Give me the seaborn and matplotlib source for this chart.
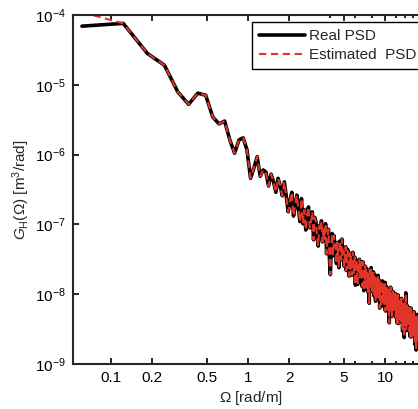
# -*- coding: utf-8 -*-
"""
Road PSD - real vs estimated (log-log)
"""

import numpy as np
import pandas as pd
import seaborn as sns
import matplotlib.pyplot as plt
from matplotlib.ticker import FixedLocator, NullFormatter

# frequency grid step [rad/m]
d_omega = 0.0614

# log10 of the real PSD, one value per frequency bin
real_log = [
    -4.16, -4.12, -4.55, -4.72, -5.10, -5.28, -5.12, -5.15, -5.46, -5.56,
    -5.52, -5.79, -5.98, -5.79, -5.76, -5.93, -6.34, -6.19, -6.03, -6.31,
    -6.22, -6.25, -6.45, -6.28, -6.39, -6.54, -6.34, -6.45, -6.59, -6.39,
    -6.60, -6.82, -6.66, -6.54, -6.88, -6.71, -6.58, -6.79, -6.96, -6.63,
    -6.99, -6.79, -7.08, -6.86, -6.75, -7.05, -6.96, -6.82, -7.22, -6.90,
    -6.96, -7.18, -7.31, -7.02, -7.10, -6.95, -7.25, -7.05, -7.21, -6.99,
    -7.42, -7.18, -7.07, -7.48, -7.72, -7.34, -7.13, -7.45, -7.16, -7.28,
    -7.31, -7.56, -7.26, -7.42, -7.62, -7.24, -7.36, -7.51, -7.21, -7.47,
    -7.38, -7.60, -7.44, -7.32, -7.66, -7.49, -7.36, -7.57, -7.74, -7.41,
    -7.64, -7.44, -7.73, -7.51, -7.40, -7.70, -7.61, -7.47, -7.87, -7.55,
    -7.51, -7.73, -7.86, -7.57, -7.65, -7.50, -7.80, -7.60, -7.76, -7.54,
    -7.89, -7.65, -7.54, -7.95, -7.70, -7.81, -7.60, -7.92, -7.63, -7.75,
    -7.72, -7.97, -7.67, -7.83, -8.13, -7.65, -7.77, -7.92, -7.62, -7.88,
    -7.74, -7.96, -7.80, -7.68, -8.02, -7.85, -7.72, -7.93, -8.10, -7.77,
    -7.97, -7.77, -8.06, -7.84, -7.73, -8.03, -7.94, -7.80, -8.20, -7.88,
    -7.82, -8.04, -8.17, -7.88, -7.96, -7.81, -8.11, -7.91, -8.07, -7.85,
    -8.18, -7.94, -7.83, -8.24, -7.99, -8.10, -7.89, -8.21, -7.92, -8.04,
    -8.00, -8.25, -7.95, -8.11, -8.41, -7.93, -8.05, -8.20, -7.90, -8.16,
    -7.97, -8.19, -8.32, -8.03, -8.11, -7.96, -8.26, -8.06, -8.22, -8.00,
    -8.05, -8.27, -8.11, -7.99, -8.33, -8.16, -8.03, -8.24, -8.41, -8.08,
    -8.36, -8.12, -8.01, -8.42, -8.17, -8.28, -8.07, -8.39, -8.10, -8.22,
    -8.30, -8.10, -8.39, -8.17, -8.06, -8.36, -8.27, -8.13, -8.53, -8.21,
    -8.21, -8.46, -8.16, -8.32, -8.62, -8.14, -8.26, -8.41, -8.11, -8.37,
    -7.98, -8.39, -8.52, -8.23, -8.31, -8.16, -8.46, -8.26, -8.42, -8.20,
    -8.25, -8.47, -8.31, -8.19, -8.53, -8.36, -8.23, -8.44, -8.61, -8.28,
    -8.55, -8.31, -8.20, -8.61, -8.36, -8.47, -8.26, -8.58, -8.29, -8.41,
    -8.49, -8.29, -8.58, -8.36, -8.25, -8.55, -8.46, -8.32, -8.72, -8.40,
    -8.39, -8.64, -8.34, -8.50, -8.80, -8.32, -8.44, -8.59, -8.29, -8.55,
    -8.34, -8.56, -8.69, -8.40, -8.48, -8.33, -8.63, -8.43, -8.59, -8.37,
]

# estimated PSD only differs at the first bin
est_first_log = -3.96

x_ticks = [0.1, 0.2, 0.5, 1, 2, 5, 10]
x_tick_labels = ["0.1", "0.2", "0.5", "1", "2", "5", "10"]
x_minor = [4, 6, 8, 12, 14, 16, 18]
y_ticks = [1e-9, 1e-8, 1e-7, 1e-6, 1e-5, 1e-4]
y_tick_labels = ["$10^{-9}$", "$10^{-8}$", "$10^{-7}$", "$10^{-6}$", "$10^{-5}$", "$10^{-4}$"]

omega = d_omega * np.arange(1, len(real_log) + 1)
est_log = [est_first_log] + real_log[1:]

df = pd.DataFrame({
    "omega": omega,
    "real": 10 ** np.array(real_log),
    "est": 10 ** np.array(est_log),
})

#------ PLOT ------#
sns.set_style("ticks")
plt.rcParams["font.family"] = ["Liberation Sans", "DejaVu Sans"]
plt.rcParams["mathtext.fontset"] = "custom"
plt.rcParams["mathtext.rm"] = "Liberation Sans"
plt.rcParams["mathtext.it"] = "Liberation Sans:italic"
plt.rcParams["axes.unicode_minus"] = False

fig = plt.figure(figsize=(4.18, 4.09), dpi=100)
ax = fig.add_axes([73 / 418, 45 / 409, 356 / 418, 349 / 409])

sns.lineplot(data=df, x="omega", y="real", ax=ax, color="black", lw=2.6,
             estimator=None, sort=False, label="Real PSD")
sns.lineplot(data=df, x="omega", y="est", ax=ax, color="#e3342a", lw=1.5,
             estimator=None, sort=False, label="Estimated  PSD")
ax.lines[1].set_dashes([3.5, 2.2])

ax.set_xscale("log")
ax.set_yscale("log")
ax.set_xlim(0.0528, 10 ** ((73 + 356 - 248) / 137))
ax.set_ylim(1e-9, 1e-4)

ax.xaxis.set_major_locator(FixedLocator(x_ticks))
ax.set_xticklabels(x_tick_labels)
ax.xaxis.set_minor_locator(FixedLocator(x_minor))
ax.xaxis.set_minor_formatter(NullFormatter())
ax.yaxis.set_major_locator(FixedLocator(y_ticks))
ax.set_yticklabels(y_tick_labels)
ax.yaxis.set_minor_locator(FixedLocator([]))

ax.tick_params(which="both", direction="in", top=True, right=True,
               labelsize=11, width=1.2, colors="black")
ax.tick_params(which="major", length=4, pad=5)
ax.tick_params(which="minor", length=2.5)
for s in ax.spines.values():
    s.set_linewidth(1.5)
ax.spines["right"].set_visible(False)

ax.set_xlabel("$\\Omega$ [rad/m]", fontsize=11, labelpad=3)
ax.set_ylabel("$G_\\mathrm{H}(\\Omega)$ [m$^3$/rad]", fontsize=11, labelpad=2)

leg = ax.legend(loc="upper left", bbox_to_anchor=(252 / 418, 1 - 22 / 409),
                bbox_transform=fig.transFigure, borderaxespad=0,
                fancybox=False, framealpha=1, edgecolor="black",
                fontsize=11, handlelength=3.0, handletextpad=0.3,
                borderpad=0.45, labelspacing=0.35)
leg.get_frame().set_linewidth(1.0)

plt.savefig("out.png", dpi=100)
